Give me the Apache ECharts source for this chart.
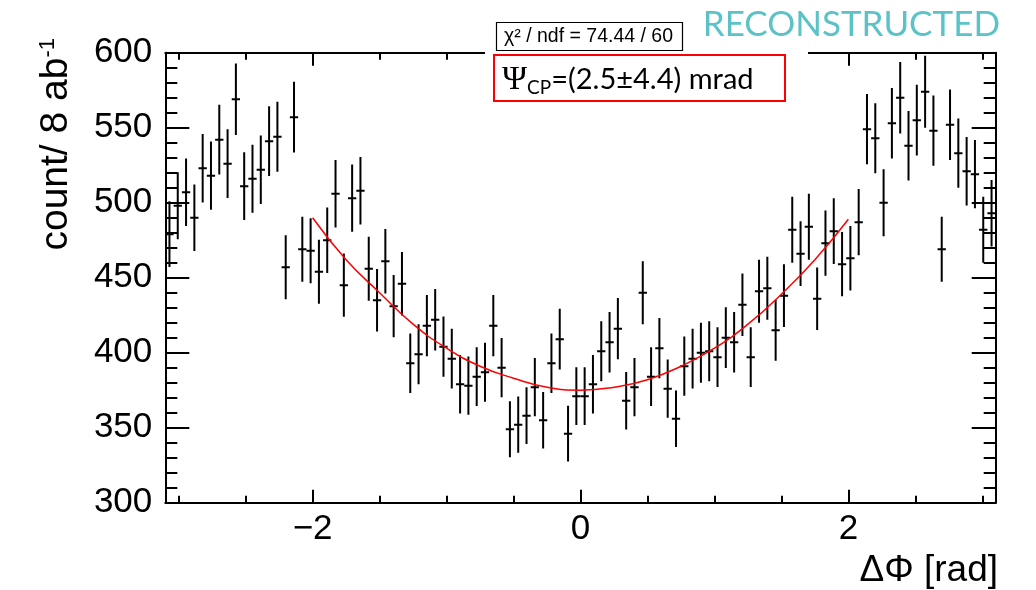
<!DOCTYPE html>
<html>
<head>
<meta charset="utf-8">
<script src="https://cdn.jsdelivr.net/npm/echarts@6/dist/echarts.min.js"></script>
<style>
html,body{margin:0;padding:0;background:#fff;}
#chart{width:1036px;height:590px;}
</style>
</head>
<body>
<div id="chart"></div>
<script>
// ---- data ----
const binCenters = [
 -3.069,-3.007,-2.945,-2.883,-2.821,-2.759,-2.697,-2.635,-2.573,-2.511,
 -2.449,-2.387,-2.325,-2.263,-2.201,-2.139,-2.077,-2.015,-1.953,-1.891,
 -1.829,-1.767,-1.705,-1.643,-1.581,-1.519,-1.457,-1.395,-1.333,-1.271,
 -1.209,-1.147,-1.085,-1.023,-0.961,-0.899,-0.837,-0.775,-0.713,-0.651,
 -0.589,-0.527,-0.465,-0.403,-0.341,-0.279,-0.217,-0.155,-0.093,-0.031,
  0.031, 0.093, 0.155, 0.217, 0.279, 0.341, 0.403, 0.465, 0.527, 0.589,
  0.651, 0.713, 0.775, 0.837, 0.899, 0.961, 1.023, 1.085, 1.147, 1.209,
  1.271, 1.333, 1.395, 1.457, 1.519, 1.581, 1.643, 1.705, 1.767, 1.829,
  1.891, 1.953, 2.015, 2.077, 2.139, 2.201, 2.263, 2.325, 2.387, 2.449,
  2.511, 2.573, 2.635, 2.697, 2.759, 2.821, 2.883, 2.945, 3.007, 3.069
];
const counts = [
 479,498,507,490,523,518,542,526,569,511,
 516,522,541,544,457,557,469,468,454,475,
 506,445,503,508,456,435,461,431,446,393,
 399,418,422,404,396,379,378,384,387,418,
 390,349,352,358,377,355,393,409,346,371,
 371,379,401,407,416,368,377,440,384,403,
 376,356,391,396,400,401,397,410,407,432,
 397,441,443,415,438,482,466,484,436,473,
 481,459,463,487,549,543,500,553,570,538,
 555,574,548,469,552,533,521,519,482,493
];
const fitX = [-2,-1.75,-1.5,-1.25,-1,-0.75,-0.5,-0.25,0,0.25,0.5,0.75,1,1.25,1.5,1.75,2];
const fitY = [490,462,440,419,403,391,383,377,375,377,382,391,403,419,439,462,489];
const xMajorTicks = [-2, 0, 2];
const xMinorTicks = [-3,-2.5,-1.5,-1,-0.5,0.5,1,1.5,2.5,3];
const binWidth = 0.062;

const FONT = 'Liberation Sans';
const chart = echarts.init(document.getElementById('chart'), null, {renderer:'canvas'});

function xAxisBase(pos, ticks, len, showLine, showLabel) {
  return {
    type:'value', position:pos, min:-3.1, max:3.1,
    axisLine:{show:showLine, onZero:false, lineStyle:{color:'#000', width:2}},
    axisTick:{show:true, inside:true, length:len, customValues:ticks, lineStyle:{color:'#000', width:2}},
    axisLabel:{show:showLabel, customValues:ticks, margin:9, fontSize:35, fontFamily:FONT, color:'#000',
      formatter: v => (v < 0 ? '\u2212' + Math.abs(v) : String(v))},
    splitLine:{show:false}
  };
}
function yAxisBase(pos, showLabel) {
  return {
    type:'value', position:pos, min:300, max:600, interval:50,
    axisLine:{show:true, onZero:false, lineStyle:{color:'#000', width:2}},
    axisTick:{show:true, inside:true, length:24, lineStyle:{color:'#000', width:2}},
    minorTick:{show:true, splitNumber:5, length:12, lineStyle:{color:'#000', width:2}},
    axisLabel:{show:showLabel, margin:13, fontSize:35, fontFamily:FONT, color:'#000'},
    splitLine:{show:false}, minorSplitLine:{show:false}
  };
}

const option = {
  animation:false,
  backgroundColor:'#fff',
  grid:{left:165.3, right:40.3, top:52.7, bottom:87.3, containLabel:false, outerBoundsMode:'none'},
  xAxis:[
    xAxisBase('bottom', xMajorTicks, 13, true, true),
    xAxisBase('bottom', xMinorTicks, 7, false, false),
    xAxisBase('top', xMajorTicks, 13, true, false),
    xAxisBase('top', xMinorTicks, 7, false, false)
  ],
  yAxis:[ yAxisBase('left', true), yAxisBase('right', false) ],
  series:[
    {
      type:'custom', xAxisIndex:0, yAxisIndex:0, clip:true, z:3,
      data: binCenters.map((x,i)=>[x, counts[i]]),
      renderItem:function(params, api){
        const x = api.value(0), y = api.value(1), e = Math.sqrt(y);
        const top = api.coord([x, y+e]), bot = api.coord([x, y-e]), c = api.coord([x, y]);
        const hw = api.size([binWidth, 0])[0] / 2;
        return {type:'group', children:[
          {type:'line', shape:{x1:c[0], y1:top[1], x2:c[0], y2:bot[1]}, style:{stroke:'#000', lineWidth:2}},
          {type:'line', shape:{x1:c[0]-hw, y1:c[1], x2:c[0]+hw, y2:c[1]}, style:{stroke:'#000', lineWidth:2}}
        ]};
      }
    },
    {
      type:'line', xAxisIndex:0, yAxisIndex:0, z:4,
      data: fitX.map((x,i)=>[x, fitY[i]]),
      smooth:0.5, showSymbol:false, symbol:'none',
      lineStyle:{color:'#ff0000', width:1.5}
    }
  ],
  graphic:[
    {type:'rect', shape:{x:485, y:47, width:323, height:10}, style:{fill:'#fff'}, z:100},
    {type:'rect', shape:{x:496.5, y:22.5, width:186, height:28}, style:{fill:'#fff', stroke:'#000', lineWidth:1.2}, z:101},
    {type:'text', x:504, y:37, z:102, style:{text:'\u03c7\u00b2 / ndf = 74.44 / 60', fontSize:19.5, fontFamily:FONT, fill:'#000', align:'left', verticalAlign:'middle'}},
    {type:'rect', shape:{x:494, y:55, width:291, height:46}, style:{fill:'#fff', stroke:'#ff0000', lineWidth:2}, z:101},
    {type:'text', x:502, y:80, z:102, style:{
      text:'{psi|\u03a8}{sub|CP}{t|=(2.5\u00b14.4) mrad}', align:'left', verticalAlign:'middle',
      rich:{
        psi:{fontSize:34, fontFamily:'Liberation Serif', fill:'#000', verticalAlign:'middle'},
        sub:{fontSize:19, fontFamily:'Lato', fill:'#000', verticalAlign:'bottom', padding:[12,0,0,0]},
        t:{fontSize:29, fontFamily:'Lato', fill:'#000', verticalAlign:'middle'}
      }}},
    {type:'text', x:1000, y:25, z:102, style:{text:'RECONSTRUCTED', fontSize:35, fontFamily:'Lato', fill:'#5BC3C7', align:'right', verticalAlign:'middle'}},
    {type:'text', x:56, y:38, rotation:Math.PI/2, z:102, style:{
      text:'{a|count/ 8 ab}{s|-1}', align:'right', verticalAlign:'middle',
      rich:{
        a:{fontSize:39, fontFamily:FONT, fill:'#000', verticalAlign:'middle'},
        s:{fontSize:22, fontFamily:FONT, fill:'#000', verticalAlign:'top'}
      }}},
    {type:'text', x:998, y:571, z:102, style:{text:'\u0394\u03a6 [rad]', fontSize:37, fontFamily:FONT, fill:'#000', align:'right', verticalAlign:'middle'}}
  ]
};
chart.setOption(option);
</script>
</body>
</html>
